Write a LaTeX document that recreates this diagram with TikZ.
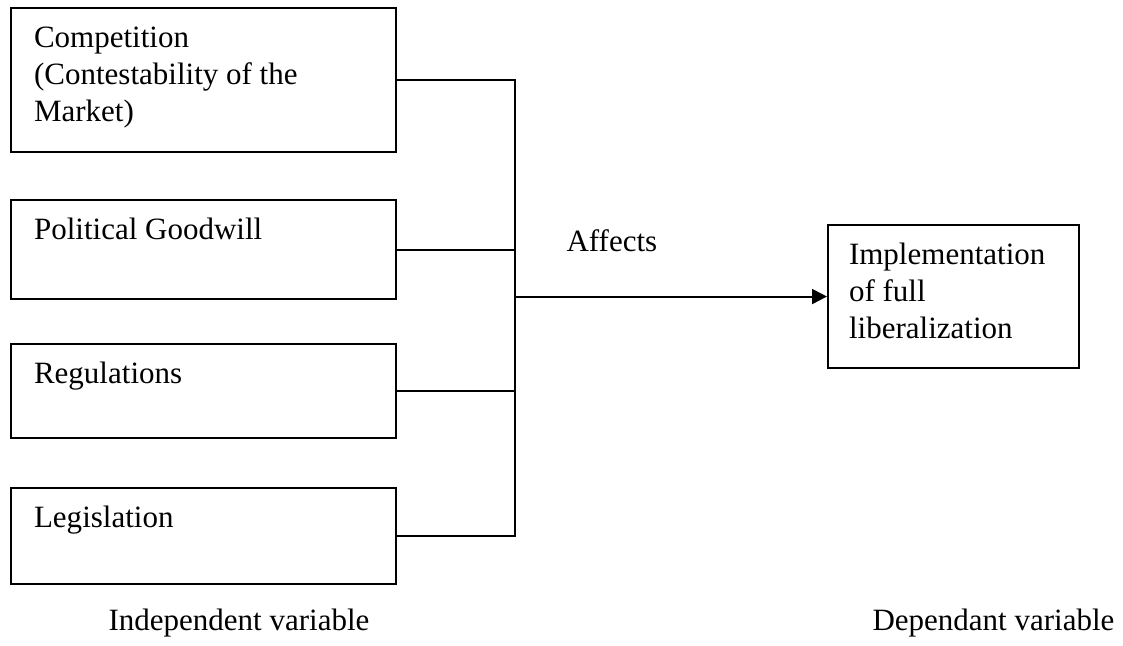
\documentclass[tikz,border=0pt]{standalone}
\usepackage{fontspec}
\setmainfont{Liberation Serif}
\usetikzlibrary{arrows.meta}
\newlength\pxu
\setlength\pxu{0.387pt}
% #1 height, #2 width, #3 left padding (px), #4 text
\newcommand\boxtxt[4]{\parbox[c][#1\pxu][t]{#2\pxu}{\fontsize{12}{14.5}\selectfont\raggedright\leftskip=#3\pxu\rule{0pt}{39\pxu}#4}}
\tikzset{
  box/.style={draw, line width=0.8pt, inner sep=0pt, anchor=north west},
  conn/.style={line width=0.8pt},
  lbl/.style={anchor=base west, inner sep=0pt, font=\fontsize{12}{14.5}\selectfont}
}
\begin{document}
\begin{tikzpicture}[x=\pxu, y=-\pxu]
\useasboundingbox (0,0) rectangle (1123,645);
\node[box] (comp) at (10,7) {\boxtxt{144}{385}{23}{Competition\\(Contestability of the\\Market)}};
\node[box] (pol) at (10,199) {\boxtxt{99}{385}{23}{Political Goodwill}};
\node[box] (reg) at (10,343) {\boxtxt{94}{385}{23}{Regulations}};
\node[box] (leg) at (10,487) {\boxtxt{96}{385}{23}{Legislation}};
\node[box] (impl) at (827,224) {\boxtxt{143}{251}{21}{Implementation\\of full\\liberalization}};
\coordinate (bus) at (515,295);
\draw[conn] (comp.east) -| (bus |- leg.east) -- (leg.east);
\draw[conn] (pol.east) -- (bus |- pol.east);
\draw[conn] (reg.east) -- (bus |- reg.east);
\draw[conn, -{Triangle[length=5.8pt, width=5.8pt]}] (bus |- impl.west) -- (impl.west);
\node[lbl] (affects) at (566,251) {Affects};
\node[lbl] (indep) at (108,630) {Independent variable};
\node[lbl] (dep) at (872,630) {Dependant variable};
\end{tikzpicture}
\end{document}
